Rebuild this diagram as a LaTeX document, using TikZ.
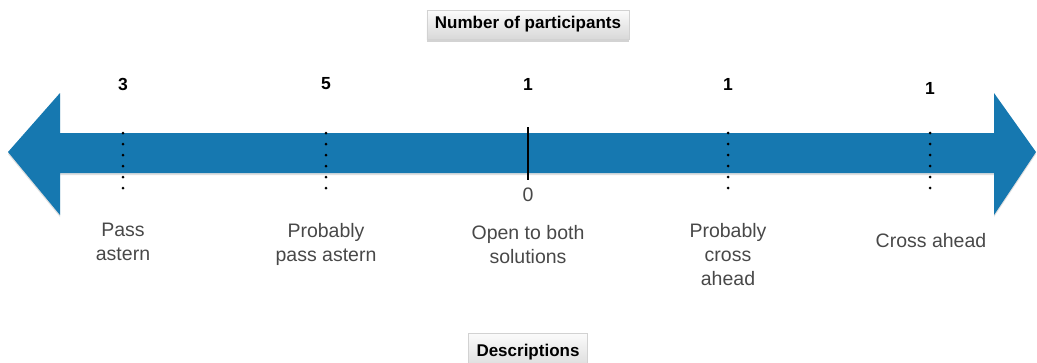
\documentclass[tikz,border=0pt]{standalone}
\usepackage{fontspec}
\setmainfont{Liberation Sans}
\usetikzlibrary{math,shadows}
\definecolor{myblue}{RGB}{22,120,176}
\definecolor{mygray}{RGB}{72,72,72}

\begin{document}
\begin{tikzpicture}[x=1pt,y=-1pt,
  numlabel/.style={font=\fontsize{17.5}{20}\selectfont\bfseries},
  desc/.style={anchor=north,inner sep=0,align=center,text=mygray,font=\fontsize{19.5}{24}\selectfont},
  tagbox/.style={draw=gray!35,line width=0.6,top color=gray!3,bottom color=gray!30,
    drop shadow={shadow xshift=0pt,shadow yshift=-2.5pt,opacity=0.35},
    font=\fontsize{17}{20}\selectfont\bfseries,inner xsep=8pt,minimum height=29pt},
  dotline/.style={line width=3,line cap=round,dash pattern=on 0pt off 11pt}]
\tikzmath{
\xL=8; \xR=1036;% arrow tips
\hL=60; \hR=994;% head bases
\yTop=133; \yBot=173;% shaft edges
\yHt=93; \yHb=215;% head corners
\yMid=152;
}
\useasboundingbox (0,0) rectangle (1037,362);

% double arrow
\fill[myblue, drop shadow={shadow xshift=0pt,shadow yshift=-2pt,opacity=0.25}]
 (\xL,\yMid) -- (\hL,\yHt) -- (\hL,\yTop) -- (\hR,\yTop) -- (\hR,\yHt) -- (\xR,\yMid)
 -- (\hR,\yHb) -- (\hR,\yBot) -- (\hL,\yBot) -- (\hL,\yHb) -- cycle;

% marks on the scale
\draw[dotline] (123,133) -- (123,189);
\draw[dotline] (326,133) -- (326,189);
\draw[dotline] (728,133) -- (728,189);
\draw[dotline] (930,133) -- (930,189);
\draw[line width=2.5] (528,127) -- (528,180);
\node[desc] (zero) at (528,188) {0};

% counts
\node[numlabel] (n3) at (123,84) {3};
\node[numlabel] (n5) at (326,84) {5};
\node[numlabel] (n1a) at (528,84) {1};
\node[numlabel] (n1b) at (728,84) {1};
\node[numlabel] (n1c) at (930,88) {1};

% descriptions
\node[desc] (pass) at (123,223) {Pass\\astern};
\node[desc] (ppass) at (326,223) {Probably\\pass astern};
\node[desc] (open) at (528,225) {Open to both\\solutions};
\node[desc] (pcross) at (728,223) {Probably\\cross\\ahead};
\node[desc] (cross) at (931,233) {Cross ahead};

% headers
\node[tagbox] (count) at (528,24.5) {Number of participants};
\node[tagbox,minimum height=38pt] (descr) at (528,352) {Descriptions};
\end{tikzpicture}
\end{document}
